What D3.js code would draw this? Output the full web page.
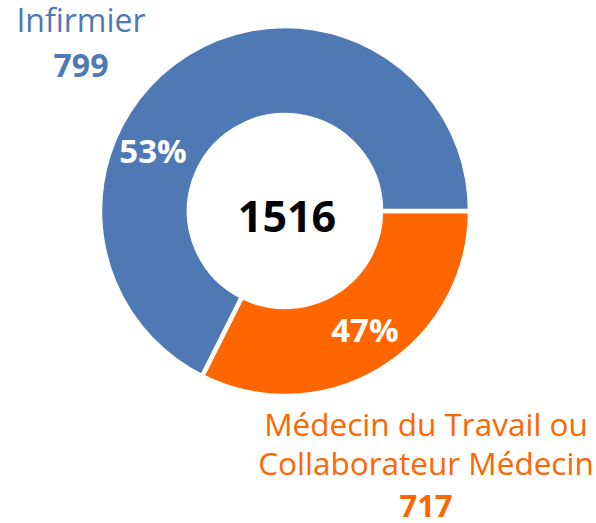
<!DOCTYPE html>
<html>
<head>
<meta charset="utf-8">
<script src="https://cdn.jsdelivr.net/npm/d3@7"></script>
<style>
  body { margin: 0; background: #fff; }
  text { font-family: "Open Sans", sans-serif; }
</style>
</head>
<body>
<script>
// Data (order: drawn clockwise from 3 o'clock)
var categories = ["Médecin du Travail ou Collaborateur Médecin", "Infirmier"];
var counts = [717, 799];
var percents = ["47%", "53%"];
// share of the ring each slice covers
var arcShares = [32.4, 67.6];
var colors = ["#ff6600", "#4f79b4"];

function donut() {
  var w = 596;
  var h = 523;
  var cx = 285, cy = 211;
  var outerR = 185, innerR = 96;

  var svg = d3.select("body")
              .append("svg")
              .attr("width", w)
              .attr("height", h);

  var g = svg.append("g")
             .attr("transform", "translate(" + cx + "," + cy + ")");

  var pie = d3.pie()
              .sort(null)
              .value(function (d) { return d; })
              .startAngle(Math.PI / 2)
              .endAngle(Math.PI / 2 + 2 * Math.PI);

  var arc = d3.arc()
              .innerRadius(innerR)
              .outerRadius(outerR);

  var slices = pie(arcShares);

  g.selectAll("path")
    .data(slices)
    .enter()
    .append("path")
    .attr("d", arc)
    .attr("fill", function (d, i) { return colors[i]; })
    .attr("stroke", "#fff")
    .attr("stroke-width", 4.5);

  // percentage labels, placed by angle (deg from 12 o'clock) and radius
  var pctPos = [[146, 143], [294.5, 145]];
  g.selectAll("text.pct")
    .data(percents)
    .enter()
    .append("text")
    .attr("class", "pct")
    .text(function (d) { return d; })
    .attr("text-anchor", "middle")
    .attr("x", function (d, i) { return pctPos[i][1] * Math.sin(pctPos[i][0] * Math.PI / 180); })
    .attr("y", function (d, i) { return -pctPos[i][1] * Math.cos(pctPos[i][0] * Math.PI / 180) + 12; })
    .attr("font-size", "33px")
    .attr("font-weight", "bold")
    .attr("fill", "white");

  // total in the middle
  g.append("text")
    .text(d3.sum(counts))
    .attr("text-anchor", "middle")
    .attr("x", 2)
    .attr("y", 21)
    .attr("font-size", "43px")
    .attr("font-weight", "bold")
    .attr("fill", "#000");

  // Infirmier label (top left)
  svg.append("text")
    .text(categories[1])
    .attr("text-anchor", "middle")
    .attr("x", 81)
    .attr("y", 32)
    .attr("font-size", "32px")
    .attr("fill", colors[1]);

  svg.append("text")
    .text(counts[1])
    .attr("text-anchor", "middle")
    .attr("x", 81)
    .attr("y", 77)
    .attr("font-size", "32px")
    .attr("font-weight", "bold")
    .attr("fill", colors[1]);

  // Médecin label (bottom right)
  var lines = ["Médecin du Travail ou", "Collaborateur Médecin"];
  svg.selectAll("text.cat0")
    .data(lines)
    .enter()
    .append("text")
    .attr("class", "cat0")
    .text(function (d) { return d; })
    .attr("text-anchor", "middle")
    .attr("x", 426)
    .attr("y", function (d, i) { return 436 + i * 39; })
    .attr("font-size", "31.5px")
    .attr("fill", colors[0]);

  svg.append("text")
    .text(counts[0])
    .attr("text-anchor", "middle")
    .attr("x", 426)
    .attr("y", 517)
    .attr("font-size", "31px")
    .attr("font-weight", "bold")
    .attr("fill", colors[0]);
}

donut();
</script>
</body>
</html>
